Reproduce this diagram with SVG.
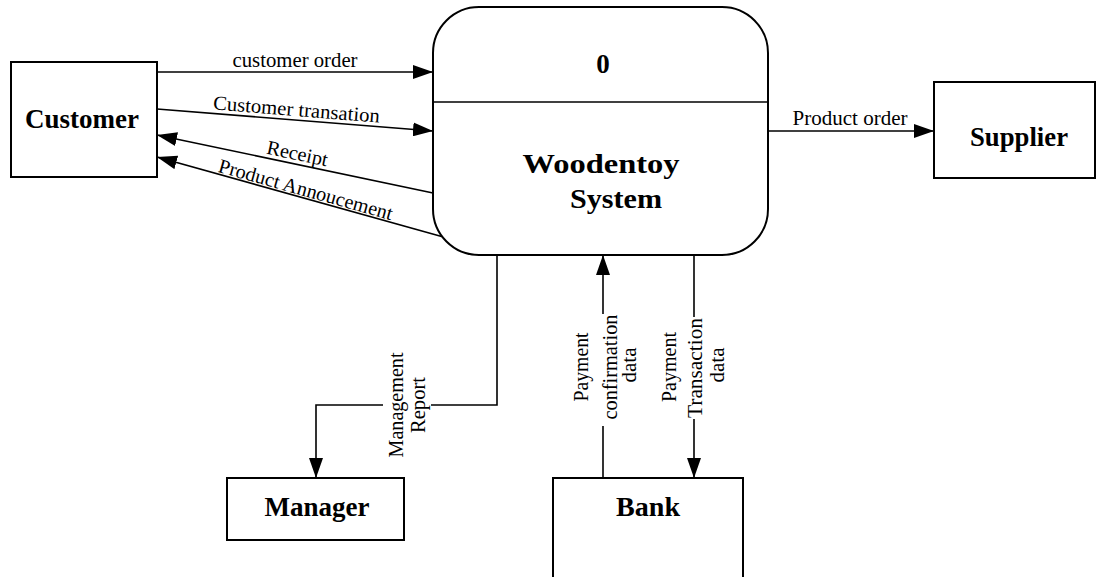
<svg xmlns="http://www.w3.org/2000/svg" width="1098" height="577" viewBox="0 0 1098 577">
<style>
.box{fill:#fff;stroke:#000;stroke-width:2}
.ln{fill:none;stroke:#000;stroke-width:1.6}
.nl{font-family:"Liberation Serif","Times New Roman",serif;font-weight:bold;font-size:27px;fill:#000;text-anchor:middle}
.lb{font-family:"Liberation Serif","Times New Roman",serif;font-size:20px;fill:#000;text-anchor:middle}
</style>
<defs>
<marker id="ah" markerUnits="userSpaceOnUse" markerWidth="20" markerHeight="14" viewBox="0 0 20 14" refX="20" refY="7" orient="auto">
<path d="M0,0 L20,7 L0,14 Z" fill="#000"/>
</marker>
</defs>
<rect width="1098" height="577" fill="#fff"/>
<g id="connectors">
<path class="ln" d="M157,72 L433,72" marker-end="url(#ah)"/>
<path class="ln" d="M157,109 L433,131" marker-end="url(#ah)"/>
<path class="ln" d="M433,193 L157,135" marker-end="url(#ah)"/>
<path class="ln" d="M447,238 L157,157" marker-end="url(#ah)"/>
<path class="ln" d="M768,131 L934,131" marker-end="url(#ah)"/>
<path class="ln" d="M497,255 V405 H431"/>
<path class="ln" d="M383,405 H316 V478" marker-end="url(#ah)"/>
<path class="ln" d="M603,478 V426"/>
<path class="ln" d="M603,314 V255" marker-end="url(#ah)"/>
<path class="ln" d="M694,255 V317"/>
<path class="ln" d="M694,419 V478" marker-end="url(#ah)"/>
<g id="connector-labels">
<text class="lb" x="295" y="67" textLength="125" lengthAdjust="spacingAndGlyphs">customer order</text>
<text class="lb" transform="translate(296,116) rotate(4.6)" textLength="167" lengthAdjust="spacingAndGlyphs">Customer transation</text>
<text class="lb" transform="translate(296,160) rotate(11.9)" textLength="62" lengthAdjust="spacingAndGlyphs">Receipt</text>
<text class="lb" transform="translate(304,196) rotate(15.6)" textLength="180" lengthAdjust="spacingAndGlyphs">Product Annoucement</text>
<text class="lb" x="850" y="125" textLength="115" lengthAdjust="spacingAndGlyphs">Product order</text>
<text class="lb" transform="translate(403,405) rotate(-90)" textLength="105" lengthAdjust="spacingAndGlyphs">Management</text>
<text class="lb" transform="translate(425,405) rotate(-90)" textLength="56" lengthAdjust="spacingAndGlyphs">Report</text>
<text class="lb" transform="translate(588,367) rotate(-90)" textLength="69" lengthAdjust="spacingAndGlyphs">Payment</text>
<text class="lb" transform="translate(617,367) rotate(-90)" textLength="105" lengthAdjust="spacingAndGlyphs">confirmation</text>
<text class="lb" transform="translate(636,365) rotate(-90)" textLength="35" lengthAdjust="spacingAndGlyphs">data</text>
<text class="lb" transform="translate(676,367) rotate(-90)" textLength="70" lengthAdjust="spacingAndGlyphs">Payment</text>
<text class="lb" transform="translate(702,368) rotate(-90)" textLength="100" lengthAdjust="spacingAndGlyphs">Transaction</text>
<text class="lb" transform="translate(724,365) rotate(-90)" textLength="35" lengthAdjust="spacingAndGlyphs">data</text>
</g>
</g>
<g id="customer">
<rect class="box" x="11" y="62" width="146" height="115"/>
<text class="nl" x="82" y="128" textLength="114" lengthAdjust="spacingAndGlyphs">Customer</text>
</g>
<g id="process-0">
<rect class="box" x="433" y="7" width="335" height="248" rx="46" ry="46"/>
<line class="ln" x1="433" y1="102" x2="768" y2="102" stroke-width="1.8"/>
<text class="nl" x="603" y="73" font-size="28">0</text>
<text class="nl" x="601" y="173" font-size="28" textLength="157" lengthAdjust="spacingAndGlyphs">Woodentoy</text>
<text class="nl" x="616" y="208" font-size="28" textLength="92" lengthAdjust="spacingAndGlyphs">System</text>
</g>
<g id="supplier">
<rect class="box" x="934" y="82" width="161" height="96"/>
<text class="nl" x="1019" y="146" textLength="98" lengthAdjust="spacingAndGlyphs">Supplier</text>
</g>
<g id="manager">
<rect class="box" x="227" y="478" width="177" height="62"/>
<text class="nl" x="317" y="516" textLength="105" lengthAdjust="spacingAndGlyphs">Manager</text>
</g>
<g id="bank">
<rect class="box" x="553" y="478" width="190" height="110"/>
<text class="nl" x="648" y="516" textLength="64" lengthAdjust="spacingAndGlyphs">Bank</text>
</g>
</svg>
